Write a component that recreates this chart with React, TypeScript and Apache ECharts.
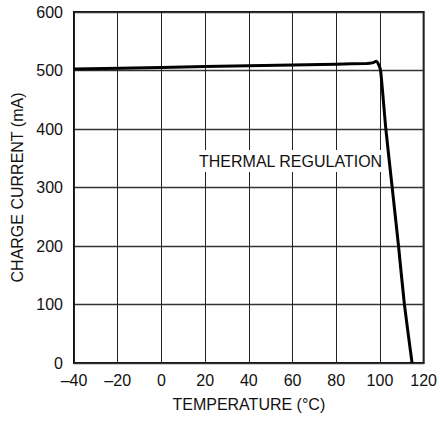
import React, { useEffect, useRef } from "react";
import * as echarts from "echarts";

const temperatures = [-40, 0, 40, 80, 94, 96.5, 97.5, 98.2, 99.3, 100.3, 102.7, 105.6, 108.5, 111.2, 114.7];
const chargeCurrent = [502.5, 505.3, 508, 510.8, 512, 513, 514.5, 516, 511, 500, 400, 300, 200, 100, 0];
const xTicks = [-40, -20, 0, 20, 40, 60, 80, 100, 120];
const yTicks = [0, 100, 200, 300, 400, 500, 600];
const annotation = "THERMAL REGULATION";
const xName = "TEMPERATURE (°C)";
const yName = "CHARGE CURRENT (mA)";

const FONT = "'Liberation Sans', Arial, sans-serif";

export default function App() {
  const ref = useRef<HTMLDivElement>(null);
  useEffect(() => {
    if (!ref.current) return;
    const chart = echarts.init(ref.current, undefined, { renderer: "svg" });
    const data = temperatures.map((t, i) => [t, chargeCurrent[i]]);
    chart.setOption({
      animation: false,
      backgroundColor: "#ffffff",
      grid: {
        left: 74,
        right: 14,
        top: 12,
        bottom: 58,
        show: true,
        borderColor: "#111",
        borderWidth: 2,
        containLabel: false,
      },
      xAxis: {
        type: "value",
        min: xTicks[0],
        max: xTicks[xTicks.length - 1],
        interval: 20,
        name: xName,
        nameLocation: "middle",
        nameGap: 33,
        nameTextStyle: { fontFamily: FONT, fontSize: 16, color: "#111", verticalAlign: "top" },
        axisLine: { show: false },
        axisTick: { show: false },
        axisLabel: {
          fontFamily: FONT,
          fontSize: 16,
          color: "#111",
          margin: 9,
          formatter: (v: number) => String(v).replace("-", "\u2013"),
        },
        splitLine: { show: true, lineStyle: { color: "#222", width: 1 } },
      },
      yAxis: {
        type: "value",
        min: yTicks[0],
        max: yTicks[yTicks.length - 1],
        interval: 100,
        name: yName,
        nameLocation: "middle",
        nameGap: 48,
        nameTextStyle: { fontFamily: FONT, fontSize: 16, color: "#111" },
        axisLine: { show: false },
        axisTick: { show: false },
        axisLabel: { fontFamily: FONT, fontSize: 16, color: "#111", margin: 11 },
        splitLine: { show: true, lineStyle: { color: "#333", width: 1.3 } },
      },
      graphic: [
        {
          type: "text",
          x: 198,
          y: 161,
          z: 10,
          style: {
            text: annotation,
            fontFamily: FONT,
            fontSize: 16,
            fill: "#111",
            verticalAlign: "middle",
            align: "left",
            backgroundColor: "#fff",
            padding: [3, 1],
          },
        },
      ],
      series: [
        {
          type: "line",
          data,
          showSymbol: false,
          smooth: 0.2,
          lineStyle: { color: "#000", width: 3 },
          z: 5,
        },
      ],
    });
    return () => chart.dispose();
  }, []);
  return (
    <div
      ref={ref}
      style={{ position: "fixed", left: 0, top: 0, width: 440, height: 421 }}
    />
  );
}
